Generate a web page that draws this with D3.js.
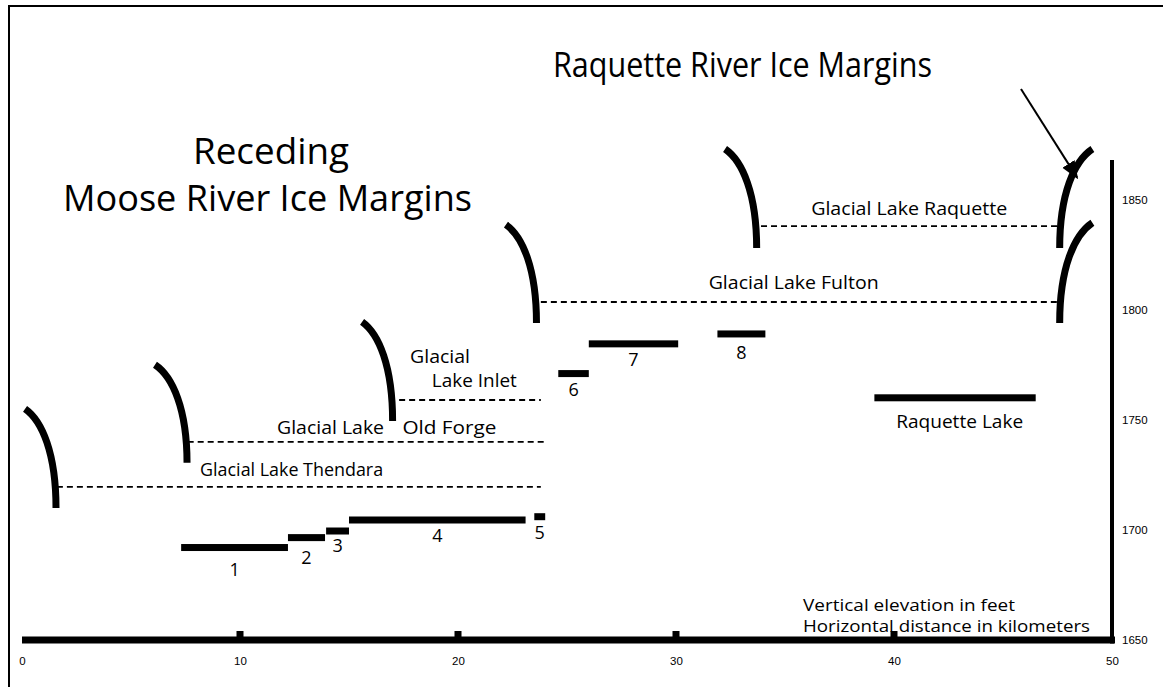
<!DOCTYPE html>
<html>
<head>
<meta charset="utf-8">
<script src="https://cdn.jsdelivr.net/npm/d3@7"></script>
<style>
body { margin: 0; background: #fff; }
svg { display: block; font-family: "Open Sans", sans-serif; }
</style>
</head>
<body>
<svg width="1163" height="687"></svg>
<script>
// axis ticks: distance in km, elevation in feet
var xTicks = [0, 10, 20, 30, 40, 50];
var yTicks = [1650, 1700, 1750, 1800, 1850];

// terraces / deltas (numbered bars): start km, end km, elevation ft
var terraceNames = ["1", "2", "3", "4", "5", "6", "7", "8", "Raquette Lake"];
var terraceStart = [7.3, 12.2, 13.95, 15.0, 23.5, 24.6, 26.0, 31.9, 39.1];
var terraceEnd   = [12.2, 13.9, 15.0, 23.1, 24.0, 26.0, 30.1, 34.1, 46.5];
var terraceElev  = [1692, 1696.5, 1699.5, 1704.5, 1706, 1771, 1784.5, 1789, 1760];

// glacial lake water levels (dashed)
var lakeStart = [1.6, 7.6, 17.3, 23.8, 33.9];
var lakeEnd   = [23.8, 24.0, 23.8, 47.6, 47.5];
var lakeElev  = [1719.5, 1740, 1759, 1803.5, 1838];

// lake labels: text, km, elevation of baseline
var lakeLabels = ["Glacial Lake Thendara", "Glacial Lake", "Old Forge", "Glacial", "Lake Inlet", "Glacial Lake Fulton", "Glacial Lake Raquette"];
var lakeLabelKm = [8.17, 11.7, 17.45, 17.8, 18.8, 31.5, 36.2];
var lakeLabelElev = [1724.5, 1743.5, 1743.5, 1776, 1765, 1809.5, 1843];

// ice margins: foot (km, ft) and crest (km, ft)
var marginFootKm   = [1.56, 7.57, 17.0, 23.6, 33.7, 47.6, 47.6];
var marginFootElev = [1710, 1730.5, 1749.5, 1794, 1828, 1828, 1794];
var marginTopKm    = [0.14, 6.1, 15.6, 22.2, 32.25, 49.1, 49.1];
var marginTopElev  = [1755, 1775, 1794.5, 1838.6, 1873, 1873, 1839.5];

var svg = d3.select("svg");

var x = d3.scaleLinear().domain([0, 50]).range([22, 1112]);
var y = d3.scaleLinear().domain([1650, 1868]).range([640, 160]);

// frame (only top and left edges show)
svg.append("path")
  .attr("d", "M9,687V6H1163")
  .attr("fill", "none")
  .attr("stroke", "#000")
  .attr("stroke-width", 2);

// bottom axis
var xAxis = svg.append("g")
  .attr("transform", "translate(0," + y(1650) + ")")
  .call(d3.axisBottom(x).tickValues(xTicks).tickSize(0).tickPadding(17).tickFormat(d3.format("d")));
xAxis.select(".domain").remove();
xAxis.selectAll("text").style("font-size", "11.5px").attr("fill", "#000");

svg.append("line")
  .attr("x1", x(0)).attr("x2", x(50) + 3)
  .attr("y1", y(1650)).attr("y2", y(1650))
  .attr("stroke", "#000").attr("stroke-width", 7);

svg.selectAll(".xbump")
  .data(xTicks.filter(function(d) { return d > 0 && d < 50; }))
  .enter().append("rect")
  .attr("class", "xbump")
  .attr("x", function(d) { return x(d) - 3.5; })
  .attr("y", y(1650) - 9)
  .attr("width", 7)
  .attr("height", 7)
  .attr("fill", "#000");

// right axis
var yAxis = svg.append("g")
  .attr("transform", "translate(" + x(50) + ",0)")
  .call(d3.axisRight(y).tickValues(yTicks).tickSize(0).tickPadding(10).tickFormat(d3.format("d")));
yAxis.select(".domain").remove();
yAxis.selectAll("text").style("font-size", "11.5px").attr("fill", "#000");

svg.append("line")
  .attr("x1", x(50)).attr("x2", x(50))
  .attr("y1", y(1868)).attr("y2", y(1650) + 3.5)
  .attr("stroke", "#000").attr("stroke-width", 4);

// terraces
terraceNames.forEach(function(name, i) {
  svg.append("rect")
    .attr("x", x(terraceStart[i]))
    .attr("y", y(terraceElev[i]) - 3.5)
    .attr("width", x(terraceEnd[i]) - x(terraceStart[i]))
    .attr("height", 7)
    .attr("fill", "#000");
});

var numOffset = [28, 26, 21, 22, 22, 22, 22, 25];
terraceNames.forEach(function(name, i) {
  if (i < 8) {
    svg.append("text")
      .attr("x", (x(terraceStart[i]) + x(terraceEnd[i])) / 2)
      .attr("y", y(terraceElev[i]) + numOffset[i])
      .attr("text-anchor", "middle")
      .style("font-size", "18px")
      .text(name);
  } else {
    svg.append("text")
      .attr("x", x(40.1))
      .attr("y", y(1746.5))
      .style("font-size", "18px")
      .attr("textLength", 127)
      .attr("lengthAdjust", "spacingAndGlyphs")
      .text(name);
  }
});

// lake levels
lakeElev.forEach(function(e, i) {
  svg.append("line")
    .attr("x1", x(lakeStart[i])).attr("x2", x(lakeEnd[i]))
    .attr("y1", y(e)).attr("y2", y(e))
    .attr("stroke", "#000")
    .attr("stroke-width", 1.8)
    .attr("stroke-dasharray", "6,4");
});

var labelWidth = [183, 107, 94, 60, 85, 170, 196];
lakeLabels.forEach(function(t, i) {
  svg.append("text")
    .attr("x", x(lakeLabelKm[i]))
    .attr("y", y(lakeLabelElev[i]))
    .style("font-size", "18px")
    .attr("textLength", labelWidth[i])
    .attr("lengthAdjust", "spacingAndGlyphs")
    .text(t);
});

// ice margins
marginFootKm.forEach(function(k, i) {
  var xf = x(k), yf = y(marginFootElev[i]);
  var xt = x(marginTopKm[i]), yt = y(marginTopElev[i]);
  var p = d3.path();
  p.moveTo(xt, yt);
  p.bezierCurveTo(xt + 0.55 * (xf - xt), yt + 0.12 * (yf - yt), xf, yt + 0.45 * (yf - yt), xf, yf);
  svg.append("path")
    .attr("d", p.toString())
    .attr("fill", "none")
    .attr("stroke", "#000")
    .attr("stroke-width", 7);
});

// titles
svg.append("text")
  .attr("x", 193).attr("y", 164)
  .style("font-size", "37px")
  .attr("textLength", 156)
  .attr("lengthAdjust", "spacingAndGlyphs")
  .text("Receding");
svg.append("text")
  .attr("x", 63).attr("y", 211)
  .style("font-size", "37px")
  .attr("textLength", 409)
  .attr("lengthAdjust", "spacingAndGlyphs")
  .text("Moose River Ice Margins");
svg.append("text")
  .attr("x", 553).attr("y", 77)
  .style("font-size", "35px")
  .attr("textLength", 379)
  .attr("lengthAdjust", "spacingAndGlyphs")
  .text("Raquette River Ice Margins");

// arrow to the Raquette margins
svg.append("defs").append("marker")
  .attr("id", "head")
  .attr("viewBox", "0 0 10 10")
  .attr("refX", 9).attr("refY", 5)
  .attr("markerWidth", 9).attr("markerHeight", 9)
  .attr("orient", "auto")
  .append("path")
  .attr("d", "M0,1L10,5L0,9Z")
  .attr("fill", "#000");
svg.append("line")
  .attr("x1", 1021).attr("y1", 89)
  .attr("x2", x(48.4)).attr("y2", y(1860))
  .attr("stroke", "#000")
  .attr("stroke-width", 2)
  .attr("marker-end", "url(#head)");

// note
svg.append("text")
  .attr("x", 803).attr("y", 611)
  .style("font-size", "17px")
  .attr("textLength", 212)
  .attr("lengthAdjust", "spacingAndGlyphs")
  .text("Vertical elevation in feet");
svg.append("text")
  .attr("x", 803).attr("y", 632)
  .style("font-size", "17px")
  .attr("textLength", 287)
  .attr("lengthAdjust", "spacingAndGlyphs")
  .text("Horizontal distance in kilometers");
</script>
</body>
</html>
